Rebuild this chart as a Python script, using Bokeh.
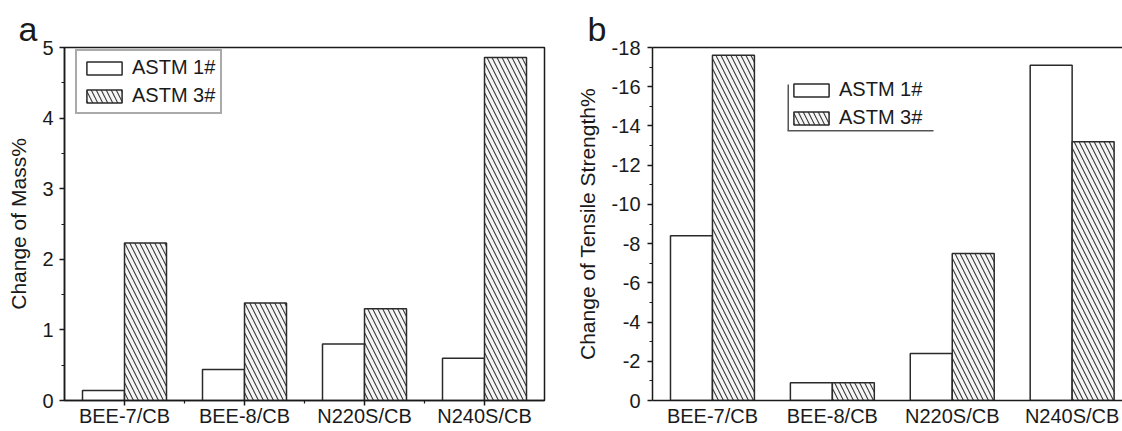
from bokeh.plotting import figure
from bokeh.layouts import row
from bokeh.models import (ColumnDataSource, FixedTicker, Legend, LegendItem,
                          Range1d, LinearAxis, BoxAnnotation)
from bokeh.transform import dodge
from bokeh.embed import file_html
from bokeh.resources import INLINE

# ---- data ----
categories = ["BEE-7/CB", "BEE-8/CB", "N220S/CB", "N240S/CB"]
series_names = ["ASTM 1#", "ASTM 3#"]
mass_astm1 = [0.14, 0.44, 0.80, 0.60]
mass_astm3 = [2.23, 1.38, 1.30, 4.86]
tensile_astm1 = [-8.4, -0.9, -2.4, -17.1]
tensile_astm3 = [-17.6, -0.9, -7.5, -13.2]
mass_ticks = [0, 1, 2, 3, 4, 5]
tensile_ticks = [-18, -16, -14, -12, -10, -8, -6, -4, -2, 0]

FONT = "Liberation Sans"
DARK = "#1a1a1a"
BAR_LINE = "#2a2a2a"
positions = [i + 1 for i in range(len(categories))]
FRAME_BOTTOM = 400  # expected canvas y of the x axis


def style_common(p, letter, letter_offset):
    p.grid.visible = False
    p.background_fill_color = "white"
    p.border_fill_color = "white"
    for ax in (p.xaxis[0], p.yaxis[0]):
        ax.axis_line_color = DARK
        ax.axis_line_width = 1.5
        ax.major_tick_line_color = DARK
        ax.minor_tick_line_color = DARK
        ax.major_tick_line_width = 1.5
        ax.minor_tick_line_width = 1.2
        ax.major_tick_in = 0
        ax.minor_tick_in = 0
        ax.major_tick_out = 5
        ax.minor_tick_out = 3
        ax.major_label_text_font = FONT
        ax.major_label_text_color = DARK
        ax.major_label_text_font_size = "20px"
        ax.axis_label_text_font = FONT
        ax.axis_label_text_color = DARK
        ax.axis_label_text_font_style = "normal"
        ax.axis_label_text_font_size = "21px"
    p.xaxis.major_label_overrides = {q: c for q, c in zip(positions, categories)}
    # panel letter
    p.title.text = letter
    p.title.text_font = FONT
    p.title.text_font_size = "34px"
    p.title.text_font_style = "normal"
    p.title.text_color = DARK
    p.title.align = "left"
    p.title.offset = letter_offset
    p.title.standoff = 0


def add_bars(p, src):
    r1 = p.vbar(x=dodge("pos", -0.175), top="s1", bottom=0, width=0.35, source=src,
                fill_color="white", line_color=BAR_LINE, line_width=1.5)
    r3 = p.vbar(x=dodge("pos", 0.175), top="s3", bottom=0, width=0.35, source=src,
                fill_color="#f6f6f6", line_color=BAR_LINE, line_width=1.5,
                hatch_pattern="\\", hatch_color="#3a3a3a", hatch_scale=10, hatch_weight=1.1)
    return r1, r3


def make_legend(p, r1, r3, loc, border):
    leg = Legend(items=[LegendItem(label=series_names[0], renderers=[r1]),
                        LegendItem(label=series_names[1], renderers=[r3])],
                 location=loc, orientation="vertical")
    leg.label_text_font = FONT
    leg.label_text_font_size = "20px"
    leg.label_text_color = DARK
    leg.glyph_width = 44
    leg.glyph_height = 16
    leg.label_height = 20
    leg.label_standoff = 6
    leg.spacing = 5
    leg.padding = 5
    leg.margin = 0
    leg.background_fill_alpha = 0
    if border:
        leg.border_line_color = "#555555"
        leg.border_line_width = 2
    else:
        leg.border_line_color = None
    p.add_layout(leg)


# ---------------- panel a ----------------
src_a = ColumnDataSource(dict(pos=positions, s1=mass_astm1, s3=mass_astm3))
pa = figure(width=560, height=431, output_backend="svg", toolbar_location=None,
            x_range=Range1d(0.5, 4.5), y_range=Range1d(0, 5),
            min_border_left=64, min_border_right=16, min_border_top=45,
            min_border_bottom=431 - FRAME_BOTTOM)
style_common(pa, "a", -46)
pa.outline_line_color = DARK
pa.outline_line_width = 1.5
pa.outline_line_alpha = 1
ra1, ra3 = add_bars(pa, src_a)
pa.xaxis.ticker = FixedTicker(ticks=positions,
                              minor_ticks=[q + 0.5 for q in positions[:-1]])
pa.xaxis.major_tick_out = 5
pa.xaxis.minor_tick_out = 3
pa.xaxis.major_label_standoff = -1
pa.yaxis.ticker = FixedTicker(ticks=mass_ticks,
                              minor_ticks=[t + 0.5 for t in mass_ticks[:-1]])
pa.yaxis.major_label_overrides = {t: str(t) for t in mass_ticks}
pa.yaxis.major_label_standoff = 6
pa.yaxis.axis_label = "Change of Mass%"
pa.yaxis.axis_label_standoff = 9
make_legend(pa, ra1, ra3, (11, FRAME_BOTTOM - 114), True)

# ---------------- panel b ----------------
src_b = ColumnDataSource(dict(pos=positions, s1=tensile_astm1, s3=tensile_astm3))
pb = figure(width=562, height=431, output_backend="svg", toolbar_location=None,
            x_range=Range1d(0.5, 4.42), y_range=Range1d(0, -18),
            min_border_left=92, min_border_right=0, min_border_top=47,
            min_border_bottom=431 - FRAME_BOTTOM)
style_common(pb, "b", -65)
pb.outline_line_color = None
rb1, rb3 = add_bars(pb, src_b)
pb.xaxis.ticker = FixedTicker(ticks=positions)
pb.xaxis.major_tick_line_color = None
pb.xaxis.minor_tick_line_color = None
pb.xaxis.major_tick_out = 0
pb.xaxis.minor_tick_out = 0
pb.xaxis.major_label_standoff = 4
pb.yaxis.ticker = FixedTicker(ticks=tensile_ticks,
                              minor_ticks=[t + 1 for t in tensile_ticks[:-1]])
pb.yaxis.major_label_overrides = {t: str(t) for t in tensile_ticks}
pb.yaxis.major_label_standoff = 7
pb.yaxis.axis_label = "Change of Tensile Strength%"
pb.yaxis.axis_label_standoff = 10
top_axis = LinearAxis(axis_line_color=DARK, axis_line_width=1.5,
                      major_tick_line_color=None, minor_tick_line_color=None,
                      major_label_text_font_size="0px", ticker=FixedTicker(ticks=[]))
pb.add_layout(top_axis, "above")
make_legend(pb, rb1, rb3, (137, FRAME_BOTTOM - 129), False)
# partial (left + bottom) frame of the legend in panel b
lb = FRAME_BOTTOM - 130
pb.add_layout(BoxAnnotation(left=135, right=136.5, bottom=lb, top=lb + 46,
                            left_units="screen", right_units="screen",
                            bottom_units="screen", top_units="screen",
                            fill_color="#555555", fill_alpha=1, line_color=None))
pb.add_layout(BoxAnnotation(left=135, right=281, bottom=lb - 1, top=lb + 0.5,
                            left_units="screen", right_units="screen",
                            bottom_units="screen", top_units="screen",
                            fill_color="#555555", fill_alpha=1, line_color=None))

layout = row(pa, pb)
open("out.html", "w").write(file_html(layout, INLINE))
